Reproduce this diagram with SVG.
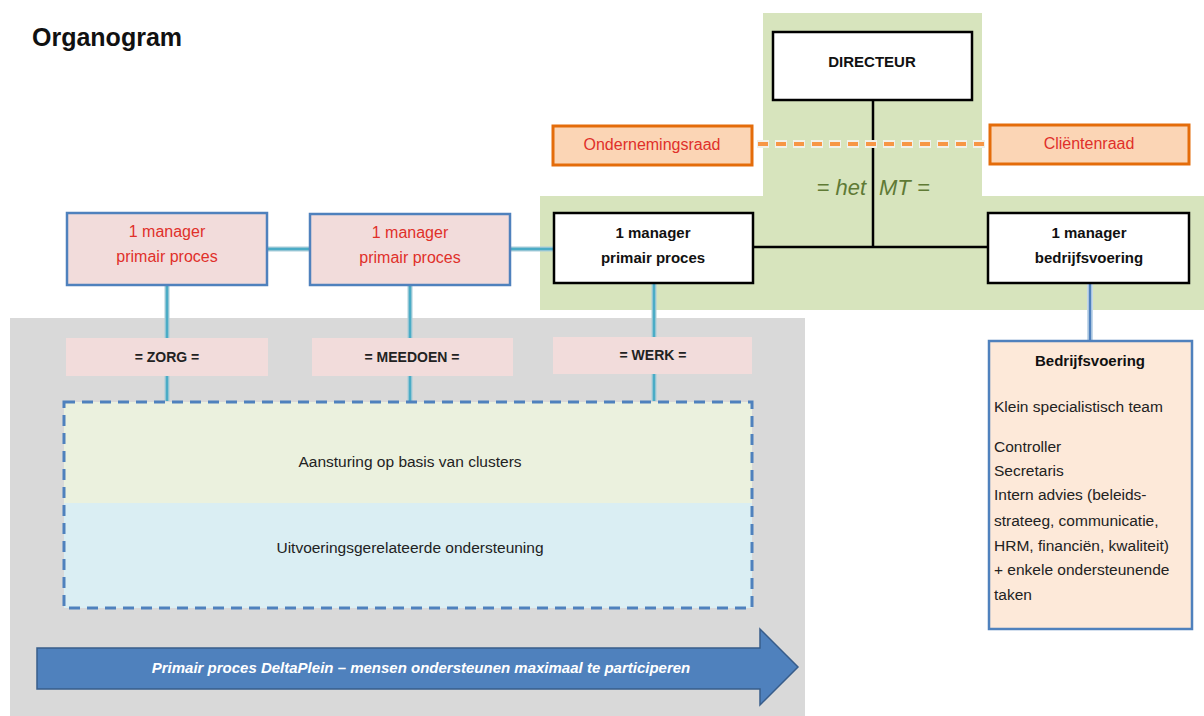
<svg xmlns="http://www.w3.org/2000/svg" width="1204" height="716" viewBox="0 0 1204 716">
<style>
text{font-family:"Liberation Sans",Arial,sans-serif}
.t{font-size:15.5px;fill:#222}
.hb{font-size:15px;font-weight:bold;fill:#111}
.lb{font-size:14px;font-weight:bold;fill:#222}
.red{fill:#e0302a;font-size:16px}
.pm{fill:#f2dcdb;stroke:#4f81bd;stroke-width:2.5}
.wm{fill:#fff;stroke:#000;stroke-width:2.5}
.council{fill:#fbd5b5;stroke:#e46c0a;stroke-width:3}
.lab{fill:#f2dcdb}
.tealw{stroke:#a9cdd9;stroke-width:5;fill:none}
.teal{stroke:#4bacc6;stroke-width:2.5;fill:none}
.blk{stroke:#000;stroke-width:2.5;fill:none}
</style>
<rect width="1204" height="716" fill="#fff"/>
<g id="backgrounds">
<rect x="763" y="13" width="219" height="184" fill="#d7e4bd"/>
<rect x="540" y="196" width="664" height="114" fill="#d7e4bd"/>
<rect x="10" y="318" width="795" height="398" fill="#d9d9d9"/>
</g>
<text x="32" y="46" font-weight="bold" font-size="25" fill="#111">Organogram</text>
<g id="connectors">
<line x1="873" y1="100" x2="873" y2="247" class="blk"/>
<line x1="753" y1="247" x2="988" y2="247" class="blk"/>
<line x1="757" y1="144" x2="988" y2="144" stroke="#f1f1ea" stroke-width="8" stroke-dasharray="12,6"/>
<line x1="758" y1="144" x2="988" y2="144" stroke="#f79646" stroke-width="4" stroke-dasharray="10,8"/>
<line x1="267" y1="249" x2="310" y2="249" class="tealw"/>
<line x1="267" y1="249" x2="310" y2="249" class="teal"/>
<line x1="510" y1="249" x2="554" y2="249" class="tealw"/>
<line x1="510" y1="249" x2="554" y2="249" class="teal"/>
<line x1="167" y1="285" x2="167" y2="401" class="tealw"/>
<line x1="167" y1="285" x2="167" y2="401" class="teal"/>
<line x1="410" y1="285" x2="410" y2="401" class="tealw"/>
<line x1="410" y1="285" x2="410" y2="401" class="teal"/>
<line x1="654" y1="283" x2="654" y2="401" class="tealw"/>
<line x1="654" y1="283" x2="654" y2="401" class="teal"/>
<line x1="1090" y1="283" x2="1090" y2="341" stroke="#c5d9ea" stroke-width="6"/>
<line x1="1090" y1="283" x2="1090" y2="341" stroke="#4f81bd" stroke-width="2.5"/>
</g>
<g id="directeur">
<rect x="773" y="32" width="199" height="68" class="wm"/>
<text x="872" y="67" class="hb" text-anchor="middle">DIRECTEUR</text>
</g>
<g id="ondernemingsraad">
<rect x="553" y="126" width="199" height="39" class="council"/>
<text x="652" y="150" class="red" text-anchor="middle">Ondernemingsraad</text>
</g>
<g id="clientenraad">
<rect x="990" y="125" width="199" height="39" class="council"/>
<text x="1089" y="149" class="red" text-anchor="middle">Cliëntenraad</text>
</g>
<g id="het-mt">
<text x="866" y="195" font-size="22" font-style="italic" fill="#5f7a35" text-anchor="end">= het</text>
<text x="879" y="195" font-size="22" font-style="italic" fill="#5f7a35">MT =</text>
</g>
<g id="manager-primair">
<rect x="554" y="213" width="199" height="70" class="wm"/>
<text x="653" y="238" class="hb" text-anchor="middle">1 manager</text>
<text x="653" y="263" class="hb" text-anchor="middle">primair proces</text>
</g>
<g id="manager-bedrijfsvoering">
<rect x="988" y="213" width="201" height="70" class="wm"/>
<text x="1089" y="238" class="hb" text-anchor="middle">1 manager</text>
<text x="1089" y="263" class="hb" text-anchor="middle">bedrijfsvoering</text>
</g>
<g id="manager-pink-1">
<rect x="67" y="213" width="200" height="72" class="pm"/>
<text x="167" y="237" class="red" text-anchor="middle">1 manager</text>
<text x="167" y="262" class="red" text-anchor="middle">primair proces</text>
</g>
<g id="manager-pink-2">
<rect x="310" y="214" width="200" height="71" class="pm"/>
<text x="410" y="238" class="red" text-anchor="middle">1 manager</text>
<text x="410" y="263" class="red" text-anchor="middle">primair proces</text>
</g>
<g id="zorg">
<rect x="66" y="338" width="202" height="38" class="lab"/>
<text x="167" y="362" class="lb" text-anchor="middle">= ZORG =</text>
</g>
<g id="meedoen">
<rect x="312" y="338" width="201" height="38" class="lab"/>
<text x="412" y="362" class="lb" text-anchor="middle">= MEEDOEN =</text>
</g>
<g id="werk">
<rect x="553" y="337" width="199" height="37" class="lab"/>
<text x="653" y="360" class="lb" text-anchor="middle">= WERK =</text>
</g>
<g id="clusters">
<rect x="64" y="402" width="688" height="101" fill="#ebf1de"/>
<rect x="64" y="503" width="688" height="105" fill="#daeef3"/>
<rect x="64" y="402" width="688" height="206" fill="none" stroke="#4f81bd" stroke-width="3" stroke-dasharray="11,7"/>
<text x="410" y="467" class="t" text-anchor="middle">Aansturing op basis van clusters</text>
<text x="410" y="553" class="t" text-anchor="middle" font-size="16">Uitvoeringsgerelateerde ondersteuning</text>
</g>
<g id="arrow">
<path d="M37,648 L760,648 L760,629 L798,667 L760,705 L760,689 L37,689 Z" fill="#4f81bd" stroke="#385d8a" stroke-width="1.5"/>
<text x="421" y="673" font-size="15" font-weight="bold" font-style="italic" fill="#fff" text-anchor="middle">Primair proces DeltaPlein – mensen ondersteunen maximaal te participeren</text>
</g>
<g id="bedrijfsvoering">
<rect x="989" y="341" width="203" height="288" fill="#fde9d9" stroke="#4f81bd" stroke-width="2.5"/>
<text x="1090" y="366" class="hb" text-anchor="middle">Bedrijfsvoering</text>
<text x="994" y="412" class="t">Klein specialistisch team</text>
<text x="994" y="452" class="t">Controller</text>
<text x="994" y="476" class="t">Secretaris</text>
<text x="994" y="500" class="t">Intern advies (beleids-</text>
<text x="994" y="526" class="t">strateeg, communicatie,</text>
<text x="994" y="551" class="t">HRM, financiën, kwaliteit)</text>
<text x="994" y="575" class="t">+ enkele ondersteunende</text>
<text x="994" y="600" class="t">taken</text>
</g>
</svg>
